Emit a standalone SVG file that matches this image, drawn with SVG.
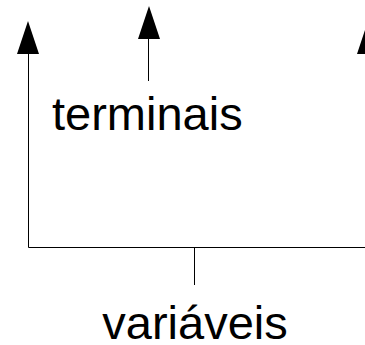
<svg xmlns="http://www.w3.org/2000/svg" width="365" height="345" viewBox="0 0 365 345">
<defs>
<style>
.ln{stroke:#000;stroke-width:1;fill:none}
.ah{fill:#000}
.t{font-family:"Liberation Sans",Arial,sans-serif;font-size:47px;fill:#000}
</style>
</defs>
<rect width="365" height="345" fill="#fff"/>
<g id="connectors">
<path class="ln" d="M28.5,54 V247.5 H368.5 V54"/>
<path class="ln" d="M194.5,247.5 V285"/>
<path class="ln" d="M148.5,39 V81"/>
<polygon class="ah" points="28,21 17,54 39,54"/>
<polygon class="ah" points="149,6 138,39 160,39"/>
<polygon class="ah" points="368,21 357,54 379,54"/>
</g>
<g id="terminais"><text class="t" x="52" y="130">terminais</text></g>
<g id="variaveis"><text class="t" x="195" y="339" text-anchor="middle">variáveis</text></g>
</svg>
